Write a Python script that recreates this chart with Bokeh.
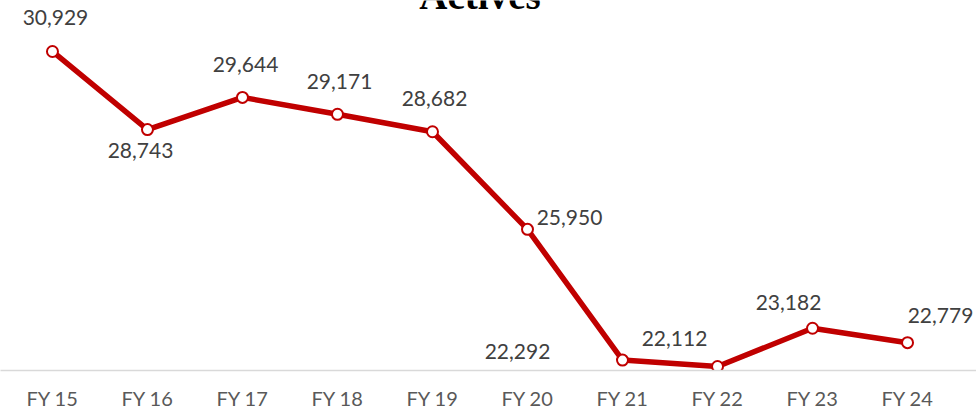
from bokeh.plotting import figure
from bokeh.models import ColumnDataSource, FixedTicker, Range1d
from bokeh.core.properties import value
from bokeh.embed import file_html
from bokeh.resources import INLINE

# ---- data ----
categories = ["FY 15", "FY 16", "FY 17", "FY 18", "FY 19",
              "FY 20", "FY 21", "FY 22", "FY 23", "FY 24"]
actives = [30929, 28743, 29644, 29171, 28682, 25950, 22292, 22112, 23182, 22779]
chart_title = "Actives"

# ---- label placement (screen px, y down) ----
label_dx = [3, -7, 3, 2, 2, 42, -105, -43, -24, 33]
label_dy = [-34, 21, -33, -33, -33, -12, -9, -28, -26, -27]

RED = "#C00000"

xs = list(range(len(categories)))
src = ColumnDataSource(dict(
    x=xs,
    y=actives,
    lbl=[f"{v:,}" for v in actives],
    dx=label_dx,
    dy=label_dy,
))

p = figure(width=976, height=412, output_backend="svg", toolbar_location=None,
           x_range=Range1d(-0.547, 9.726), y_range=Range1d(22000, 32356),
           y_axis_location=None, min_border_left=0, min_border_right=0,
           min_border_top=0, min_border_bottom=42)
p.outline_line_color = None
p.xgrid.visible = False
p.ygrid.visible = False
p.background_fill_color = "white"
p.border_fill_color = "white"

# title (mostly cut off at the top, as in the reference)
p.text(x=[4.5], y=[32356], y_offset=[16], text=[chart_title], text_align="center",
       text_baseline="bottom", text_font=value("Liberation Serif"),
       text_font_style="bold", text_font_size="39px", text_color="black")

p.line("x", "y", source=src, line_color=RED, line_width=5.5, line_join="round")
p.scatter("x", "y", source=src, size=11, fill_color="white",
          line_color=RED, line_width=2)

p.text("x", "y", text="lbl", source=src, x_offset="dx", y_offset="dy",
       text_align="center", text_baseline="middle",
       text_font=value("Lato"), text_font_size="21px", text_color="#404040")

ax = p.xaxis[0]
ax.ticker = FixedTicker(ticks=xs)
ax.major_label_overrides = {i: c for i, c in zip(xs, categories)}
ax.axis_line_color = "#D9D9D9"
ax.axis_line_width = 1.5
ax.major_tick_line_color = None
ax.minor_tick_line_color = None
ax.major_label_standoff = 9
ax.major_label_text_font = "Lato"
ax.major_label_text_font_size = "20px"
ax.major_label_text_color = "#595959"

open("out.html", "w").write(file_html(p, INLINE))
